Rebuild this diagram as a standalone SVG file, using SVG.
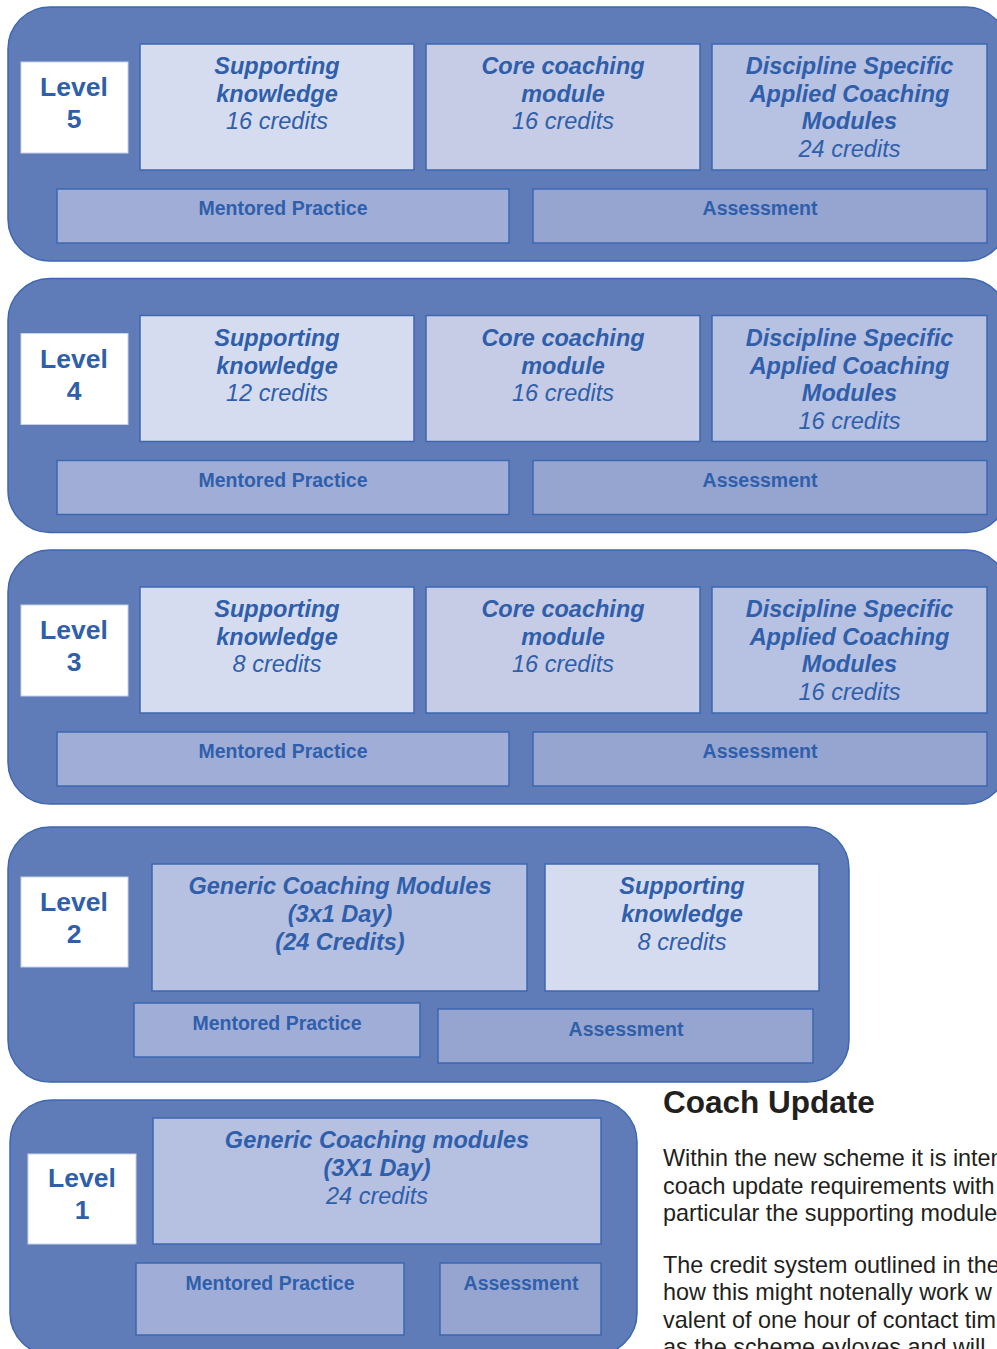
<svg xmlns="http://www.w3.org/2000/svg" width="997" height="1349" viewBox="0 0 997 1349">
<style>
.cont{fill:#5f7cb9;stroke:#3d67b1;stroke-width:1.5}
.lvl{fill:#ffffff;stroke:#c9d2e8;stroke-width:1}
.sup{fill:#d6dcef;stroke:#3d67b1;stroke-width:1.5}
.core{fill:#c6cce6;stroke:#3d67b1;stroke-width:1.5}
.disc{fill:#b7c1e2;stroke:#3d67b1;stroke-width:1.5}
.gen{fill:#b6c0e1;stroke:#3d67b1;stroke-width:1.5}
.ment{fill:#a0aed7;stroke:#3d67b1;stroke-width:1.5}
.ass{fill:#95a5d0;stroke:#3d67b1;stroke-width:1.5}
text{font-family:"Liberation Sans",Arial,sans-serif;fill:#2f5fab;text-anchor:middle}
.lt{font-size:26.5px;font-weight:bold}
.bi{font-size:23.5px;font-weight:bold;font-style:italic}
.ri{font-size:23.5px;font-style:italic}
.bt{font-size:19.5px;font-weight:bold}
.h{font-size:31.5px;font-weight:bold;fill:#231f20;text-anchor:start}
.p{font-size:23.4px;fill:#231f20;text-anchor:start}
</style>

<g id="level5">
  <rect class="cont" x="8" y="7" width="1000" height="254" rx="42"/>
  <g id="l5-label"><rect class="lvl" x="21" y="62" width="107" height="91"/><text class="lt" x="74" y="96">Level</text><text class="lt" x="74" y="128">5</text></g>
  <g id="l5-supporting"><rect class="sup" x="140" y="44" width="274" height="126"/><text class="bi" x="277" y="74">Supporting</text><text class="bi" x="277" y="102">knowledge</text><text class="ri" x="277" y="129">16 credits</text></g>
  <g id="l5-core"><rect class="core" x="426" y="44" width="274" height="126"/><text class="bi" x="563" y="74">Core coaching</text><text class="bi" x="563" y="102">module</text><text class="ri" x="563" y="129">16 credits</text></g>
  <g id="l5-discipline"><rect class="disc" x="712" y="44" width="275" height="126"/><text class="bi" x="849.5" y="74">Discipline Specific</text><text class="bi" x="849.5" y="102">Applied Coaching</text><text class="bi" x="849.5" y="129">Modules</text><text class="ri" x="849.5" y="157">24 credits</text></g>
  <g id="l5-mentored"><rect class="ment" x="57" y="189" width="452" height="54"/><text class="bt" x="283" y="215">Mentored Practice</text></g>
  <g id="l5-assessment"><rect class="ass" x="533" y="189" width="454" height="54"/><text class="bt" x="760" y="215">Assessment</text></g>
</g>

<g id="level4" transform="translate(0,271.5)">
  <rect class="cont" x="8" y="7" width="1000" height="254" rx="42"/>
  <g id="l4-label"><rect class="lvl" x="21" y="62" width="107" height="91"/><text class="lt" x="74" y="96">Level</text><text class="lt" x="74" y="128">4</text></g>
  <g id="l4-supporting"><rect class="sup" x="140" y="44" width="274" height="126"/><text class="bi" x="277" y="74">Supporting</text><text class="bi" x="277" y="102">knowledge</text><text class="ri" x="277" y="129">12 credits</text></g>
  <g id="l4-core"><rect class="core" x="426" y="44" width="274" height="126"/><text class="bi" x="563" y="74">Core coaching</text><text class="bi" x="563" y="102">module</text><text class="ri" x="563" y="129">16 credits</text></g>
  <g id="l4-discipline"><rect class="disc" x="712" y="44" width="275" height="126"/><text class="bi" x="849.5" y="74">Discipline Specific</text><text class="bi" x="849.5" y="102">Applied Coaching</text><text class="bi" x="849.5" y="129">Modules</text><text class="ri" x="849.5" y="157">16 credits</text></g>
  <g id="l4-mentored"><rect class="ment" x="57" y="189" width="452" height="54"/><text class="bt" x="283" y="215">Mentored Practice</text></g>
  <g id="l4-assessment"><rect class="ass" x="533" y="189" width="454" height="54"/><text class="bt" x="760" y="215">Assessment</text></g>
</g>

<g id="level3" transform="translate(0,543)">
  <rect class="cont" x="8" y="7" width="1000" height="254" rx="42"/>
  <g id="l3-label"><rect class="lvl" x="21" y="62" width="107" height="91"/><text class="lt" x="74" y="96">Level</text><text class="lt" x="74" y="128">3</text></g>
  <g id="l3-supporting"><rect class="sup" x="140" y="44" width="274" height="126"/><text class="bi" x="277" y="74">Supporting</text><text class="bi" x="277" y="102">knowledge</text><text class="ri" x="277" y="129">8 credits</text></g>
  <g id="l3-core"><rect class="core" x="426" y="44" width="274" height="126"/><text class="bi" x="563" y="74">Core coaching</text><text class="bi" x="563" y="102">module</text><text class="ri" x="563" y="129">16 credits</text></g>
  <g id="l3-discipline"><rect class="disc" x="712" y="44" width="275" height="126"/><text class="bi" x="849.5" y="74">Discipline Specific</text><text class="bi" x="849.5" y="102">Applied Coaching</text><text class="bi" x="849.5" y="129">Modules</text><text class="ri" x="849.5" y="157">16 credits</text></g>
  <g id="l3-mentored"><rect class="ment" x="57" y="189" width="452" height="54"/><text class="bt" x="283" y="215">Mentored Practice</text></g>
  <g id="l3-assessment"><rect class="ass" x="533" y="189" width="454" height="54"/><text class="bt" x="760" y="215">Assessment</text></g>
</g>

<g id="level2">
  <rect class="cont" x="8" y="827" width="841" height="255" rx="42"/>
  <g id="l2-label"><rect class="lvl" x="21" y="877" width="107" height="90"/><text class="lt" x="74" y="911">Level</text><text class="lt" x="74" y="943">2</text></g>
  <g id="l2-generic"><rect class="gen" x="152" y="864" width="375" height="127"/><text class="bi" x="340" y="894">Generic Coaching Modules</text><text class="bi" x="340" y="922">(3x1 Day)</text><text class="bi" x="340" y="950">(24 Credits)</text></g>
  <g id="l2-supporting"><rect class="sup" x="545" y="864" width="274" height="127"/><text class="bi" x="682" y="894">Supporting</text><text class="bi" x="682" y="922">knowledge</text><text class="ri" x="682" y="950">8 credits</text></g>
  <g id="l2-mentored"><rect class="ment" x="134" y="1003" width="286" height="54"/><text class="bt" x="277" y="1030">Mentored Practice</text></g>
  <g id="l2-assessment"><rect class="ass" x="438" y="1009" width="375" height="54"/><text class="bt" x="626" y="1036">Assessment</text></g>
</g>

<g id="level1">
  <rect class="cont" x="10" y="1100" width="627" height="255" rx="42"/>
  <g id="l1-label"><rect class="lvl" x="28" y="1154" width="108" height="90"/><text class="lt" x="82" y="1187">Level</text><text class="lt" x="82" y="1219">1</text></g>
  <g id="l1-generic"><rect class="gen" x="153" y="1118" width="448" height="126"/><text class="bi" x="377" y="1148">Generic Coaching modules</text><text class="bi" x="377" y="1176">(3X1 Day)</text><text class="ri" x="377" y="1204">24 credits</text></g>
  <g id="l1-mentored"><rect class="ment" x="136" y="1263" width="268" height="72"/><text class="bt" x="270" y="1290">Mentored Practice</text></g>
  <g id="l1-assessment"><rect class="ass" x="440" y="1263" width="161" height="72"/><text class="bt" x="521" y="1290">Assessment</text></g>
</g>

<g id="connectors"></g>

<g id="coach-update">
  <text class="h" x="663" y="1113">Coach Update</text>
  <text class="p" x="663" y="1166">Within the new scheme it is inten</text>
  <text class="p" x="663" y="1194">coach update requirements with</text>
  <text class="p" x="663" y="1221">particular the supporting module</text>
  <text class="p" x="663" y="1273">The credit system outlined in the</text>
  <text class="p" x="663" y="1300">how this might notenally work w</text>
  <text class="p" x="663" y="1328">valent of one hour of contact tim</text>
  <text class="p" x="663" y="1355">as the scheme evloves and will</text>
</g>
</svg>
